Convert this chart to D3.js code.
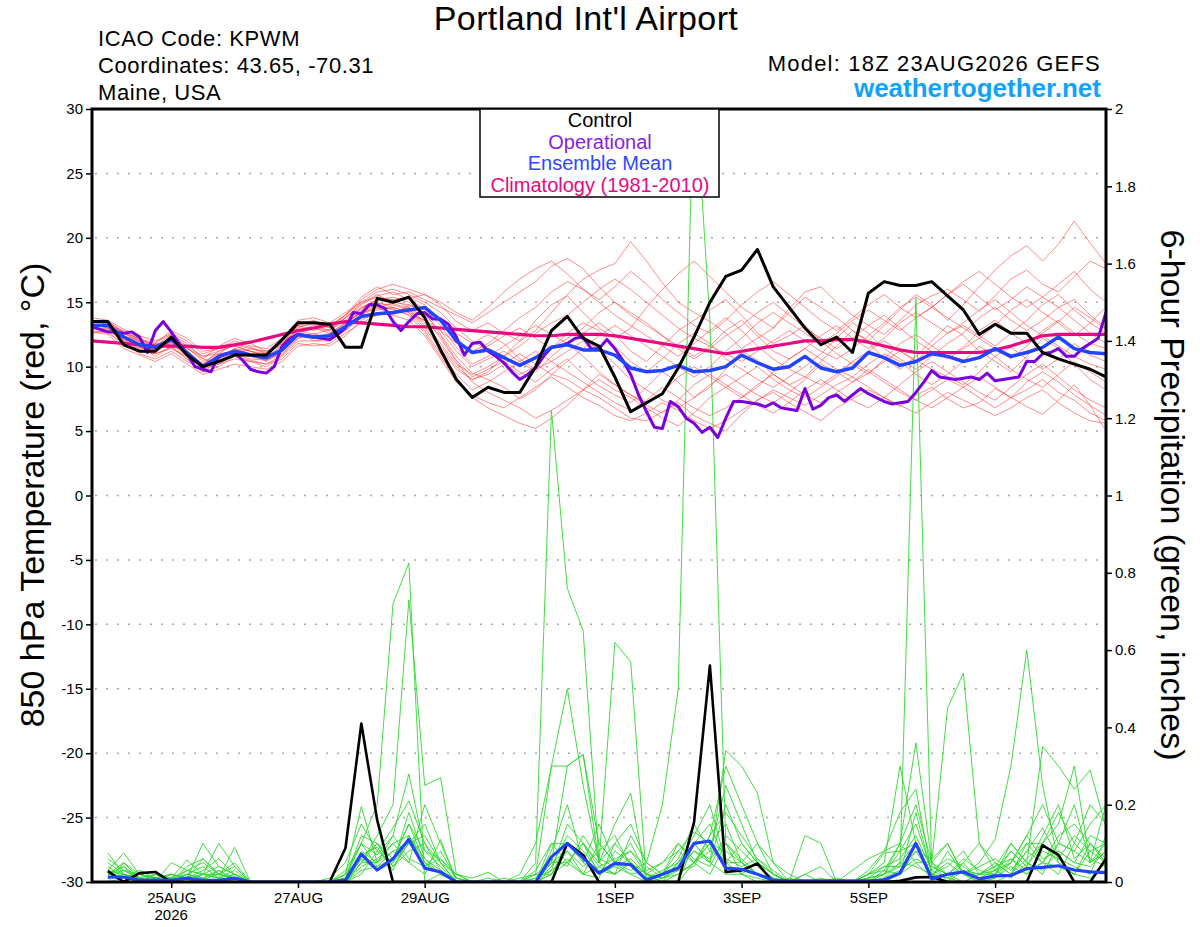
<!DOCTYPE html>
<html>
<head>
<meta charset="utf-8">
<script src="https://cdn.jsdelivr.net/npm/d3@7"></script>
<style>
  body { margin: 0; background: #fff; }
  text { font-family: "Liberation Sans", Arial, sans-serif; }
</style>
</head>
<body>
<script>
// GEFS meteogram for KPWM, 18Z 23AUG2026 run, 6-hourly steps (operational is 3-hourly)
var startTime = Date.UTC(2026, 7, 23, 18);

var tickDays = [Date.UTC(2026,7,25), Date.UTC(2026,7,27), Date.UTC(2026,7,29), Date.UTC(2026,8,1),
                Date.UTC(2026,8,3), Date.UTC(2026,8,5), Date.UTC(2026,8,7)];
var tickLabels = ["25AUG", "27AUG", "29AUG", "1SEP", "3SEP", "5SEP", "7SEP"];
var tempTicks = [-30, -25, -20, -15, -10, -5, 0, 5, 10, 15, 20, 25, 30];
var rainTicks = [0, 0.2, 0.4, 0.6, 0.8, 1, 1.2, 1.4, 1.6, 1.8, 2];

var legendNames = ["Control", "Operational", "Ensemble Mean", "Climatology (1981-2010)"];
var legendColors = ["#000000", "#8a1ee0", "#2e48ff", "#e8087f"];

// 850 hPa temperature, deg C, 0h..384h every 6h
var ctrlTemp = [13.5,13.5,11.7,11.2,11.2,12.3,10.9,10.0,10.4,10.9,
                10.9,10.9,12.1,13.4,13.4,13.3,11.5,11.5,15.3,15.0,
                15.4,13.8,11.3,9.0,7.6,8.4,8.0,8.0,10.0,12.8,
                13.9,12.2,11.6,9.2,6.5,7.2,7.9,9.9,12.3,15.0,
                17.0,17.5,19.1,16.2,14.6,13.0,11.7,12.3,11.1,15.7,
                16.6,16.3,16.3,16.6,15.5,14.4,12.5,13.3,12.6,12.6,
                11.1,10.6,10.2,9.8,9.2];

var meanTemp = [13.2,13.2,12.3,11.7,11.5,12.1,11.1,10.0,10.8,11.2,
                10.9,10.7,11.3,12.5,12.3,12.4,13.1,13.9,14.1,14.2,
                14.4,14.6,13.6,12.0,11.1,11.3,10.7,10.1,10.7,11.5,
                11.7,11.3,11.3,10.9,9.9,9.6,9.7,10.1,9.6,9.7,
                10.0,10.9,10.3,9.8,10.0,10.8,9.9,9.6,9.9,11.1,
                10.7,10.1,10.4,11.0,10.8,10.4,10.7,11.4,10.8,11.1,
                11.5,12.3,11.4,11.1,11.0];

var climTemp = [12.0,11.9,11.8,11.7,11.6,11.6,11.6,11.5,11.5,11.7,
                11.9,12.2,12.5,12.8,13.0,13.3,13.5,13.4,13.3,13.2,
                13.1,13.1,13.0,12.9,12.8,12.7,12.6,12.5,12.4,12.4,
                12.5,12.5,12.5,12.4,12.2,12.0,11.8,11.6,11.4,11.2,
                11.0,11.2,11.4,11.6,11.8,12.0,12.0,12.1,12.1,11.9,
                11.6,11.3,11.1,11.1,11.1,11.1,11.1,11.3,11.6,12.0,
                12.4,12.5,12.5,12.5,12.5];

// operational run, every 3h
var operTemp = [13.1,12.9,12.7,12.7,12.6,12.7,12.3,11.1,12.8,13.5,
                12.7,11.8,11.0,10.0,9.8,9.6,10.8,11.0,11.1,10.5,
                9.8,9.6,9.5,10.0,11.6,12.2,12.5,12.4,12.3,12.2,
                12.1,12.5,13.0,14.2,14.1,14.8,14.8,14.5,13.5,12.8,
                13.5,14.1,14.2,13.7,13.7,13.3,12.3,10.9,11.8,11.9,
                11.2,10.8,10.3,9.6,9.0,9.4,9.9,10.8,11.5,11.6,
                11.8,12.2,12.3,11.4,11.4,12.1,11.4,10.5,9.4,7.8,
                6.5,5.3,5.2,7.3,6.9,6.0,5.6,4.9,5.3,4.5,
                6.0,7.3,7.3,7.2,7.1,6.9,7.2,6.8,6.7,6.6,
                8.3,6.7,7.0,7.6,7.8,7.3,7.8,8.3,7.9,7.6,
                7.3,7.1,7.2,7.3,8.0,8.8,9.7,9.2,9.1,9.0,
                9.1,9.2,9.0,9.5,8.9,9.0,9.1,9.2,10.4,10.4,
                11.0,11.1,11.4,10.8,10.8,11.4,11.8,12.2,14.2];

var memberTemps = [
  [13.0,13.4,12.6,12.0,11.2, 12.4,11.5,10.4,11.0,11.8, 11.5,11.0,11.8,12.9,13.0, 12.8,13.6,14.5,15.2,15.0,
   15.3,15.6,14.8,13.5,12.8, 13.4,12.6,12.0,12.8,14.2, 15.6,16.8,17.5,18.0,19.7, 18.2,16.5,15.0,14.2,13.5,
   12.6,11.4,12.2,13.0,14.5, 15.8,16.2,15.0,14.0,13.2, 12.5,13.6,14.8,15.5,16.0, 15.2,14.3,15.5,16.8,17.5,
   16.4,15.8,17.0,18.2,17.6],
  [13.4,13.0,12.0,11.4,11.8, 11.6,10.6,9.6,10.4,10.8, 10.5,10.2,10.9,12.2,12.6, 12.0,13.0,14.0,14.6,14.0,
   14.8,14.2,12.5,10.8,9.5, 9.0,8.4,7.5,8.2,9.4, 9.0,8.2,7.6,6.8,6.0, 5.8,6.5,7.2,6.2,5.6,
   5.0,6.3,7.4,8.0,7.2, 6.5,5.8,6.8,7.5,8.2, 7.6,6.9,7.8,8.4,7.5, 6.8,7.2,8.3,7.6,6.9,
   6.3,7.4,8.6,7.0,5.0],
  [13.6,13.2,12.8,12.1,11.6, 12.5,11.8,10.6,10.2,10.9, 11.4,11.2,11.6,13.0,13.5, 13.0,13.8,14.8,15.5,15.8,
   15.2,14.5,13.2,11.5,10.2, 10.8,11.6,12.4,13.2,12.5, 11.8,12.6,13.4,12.5,11.2, 10.4,11.6,12.8,13.6,14.4,
   15.2,14.0,12.6,11.8,12.4, 13.2,12.0,11.0,10.2,9.4, 10.6,11.8,12.5,11.6,10.8, 11.5,12.8,13.6,12.6,11.8,
   12.6,13.5,14.6,13.8,12.9],
  [12.8,12.6,11.8,11.0,10.6, 11.2,10.4,9.8,10.6,11.4, 11.0,10.4,11.2,12.6,12.0, 12.2,13.2,14.2,14.8,14.4,
   14.0,13.6,12.4,10.5,9.2, 9.8,10.4,9.6,8.8,9.8, 10.6,9.4,8.5,7.8,7.2, 8.4,9.6,8.8,7.6,8.4,
   9.8,11.2,10.5,9.4,8.6, 9.2,10.4,11.6,12.8,11.9, 10.6,9.8,10.8,12.0,13.2, 12.4,11.2,10.4,9.6,10.8,
   12.2,11.4,10.2,9.0,8.2],
  [13.2,13.4,12.4,11.8,11.4, 12.0,11.0,10.2,11.2,11.6, 11.2,10.8,11.6,12.8,12.5, 12.9,13.8,14.9,15.6,14.9,
   14.5,13.2,11.6,10.0,9.0, 9.6,10.8,12.0,13.6,14.8, 15.5,14.2,13.0,12.2,13.0, 14.6,16.0,17.2,18.2,17.0,
   15.8,14.6,13.8,13.0,14.2, 15.4,14.6,13.8,12.8,12.0, 13.2,14.4,15.6,14.8,13.6, 14.8,16.2,17.5,18.6,19.4,
   18.2,19.5,21.3,19.6,18.0],
  [13.0,12.8,12.2,11.6,10.8, 11.6,11.2,10.2,10.8,11.0, 10.8,10.6,11.4,12.4,12.2, 12.6,13.4,14.2,14.5,15.0,
   14.8,14.4,13.8,12.6,11.8, 12.5,11.8,10.6,9.8,10.4, 11.2,12.0,11.4,10.2,9.0, 8.2,7.4,6.8,7.6,8.6,
   9.4,8.6,7.8,7.2,8.0, 9.0,10.2,9.6,8.8,9.5, 10.4,11.2,10.5,9.8,9.2, 8.6,9.6,10.8,11.5,10.6,
   9.8,10.6,11.8,10.9,10.4],
  [13.8,13.6,12.9,12.4,12.0, 12.6,12.0,11.0,11.4,12.0, 11.6,11.4,12.2,13.6,13.8, 13.4,14.2,15.0,15.8,16.0,
   15.6,15.0,14.2,13.0,12.0, 11.2,10.2,9.4,10.0,11.4, 12.6,13.4,12.8,11.6,10.4, 9.6,10.6,11.8,12.6,11.8,
   10.6,9.8,9.0,8.4,9.2, 10.0,11.0,12.2,13.4,12.6, 11.4,10.6,9.8,10.8,11.8, 12.6,13.8,14.6,13.6,12.8,
   13.6,14.6,15.2,14.0,13.0],
  [12.6,12.8,11.6,11.2,11.0, 11.4,10.8,9.8,10.2,10.6, 10.4,10.2,10.6,11.8,11.6, 11.8,12.6,13.4,14.0,14.2,
   14.6,13.8,12.2,10.4,8.8, 8.0,7.4,6.8,6.0,6.6, 7.4,8.2,9.0,8.2,7.6, 6.8,6.0,5.4,6.4,7.6,
   8.4,9.2,10.0,9.0,8.2, 7.6,8.4,9.2,10.4,9.6, 8.8,8.0,7.4,8.2,9.0, 8.4,7.6,6.8,7.6,8.8,
   9.6,8.8,7.8,7.0,6.2],
  [13.4,13.6,12.6,12.2,11.6, 12.2,11.4,10.6,11.6,12.2, 11.8,11.2,12.0,13.2,12.8, 13.2,14.0,15.4,16.2,15.6,
   15.8,15.2,14.6,14.0,13.4, 14.2,15.0,15.8,16.6,17.8, 18.4,17.6,16.2,15.0,14.0, 13.2,12.4,11.6,10.8,11.6,
   12.8,13.6,12.4,11.2,10.6, 11.4,12.4,13.2,12.2,11.4, 12.2,13.4,14.2,13.4,12.6, 13.2,12.4,11.6,12.6,13.6,
   14.8,15.6,14.4,13.4,12.6],
  [12.9,13.0,12.0,11.5,11.3, 11.8,10.8,9.9,10.4,11.0, 10.6,10.5,11.0,12.2,12.4, 12.4,13.2,14.4,15.2,15.4,
   15.0,14.0,12.8,11.2,10.0, 10.6,11.2,10.4,9.6,10.8, 11.8,10.8,9.6,8.6,7.8, 7.2,8.0,9.2,10.0,9.2,
   8.4,7.6,8.4,9.6,10.6, 11.4,10.6,9.8,9.2,10.2, 11.0,10.4,9.4,8.6,9.4, 10.4,11.6,10.8,9.8,9.0,
   8.4,9.4,10.4,9.6,8.8],
  [13.2,13.2,12.6,11.9,11.7, 12.2,11.2,10.0,10.6,11.4, 11.2,10.8,11.4,12.6,13.0, 12.6,13.4,14.6,15.2,15.2,
   15.4,14.8,13.6,12.0,11.0, 11.6,12.4,13.0,12.2,11.4, 12.2,13.0,14.2,15.0,14.2, 13.4,12.4,11.4,10.6,11.4,
   12.4,13.2,14.2,15.0,14.0, 13.0,12.2,11.4,12.2,13.2, 14.0,13.0,12.0,11.2,10.6, 11.4,12.2,11.4,10.6,11.6,
   12.8,13.6,12.6,11.8,11.4],
  [13.0,12.9,11.9,11.3,11.0, 11.5,10.6,9.6,10.0,10.8, 10.4,10.0,10.8,12.0,12.0, 12.0,12.8,13.8,14.4,14.6,
   14.2,12.8,11.0,9.4,8.2, 8.8,9.6,10.4,11.2,10.4, 9.6,8.8,8.0,7.2,6.6, 7.4,8.4,7.6,6.8,6.2,
   6.8,7.6,8.6,9.4,8.6, 7.8,7.2,8.0,8.8,9.8, 9.0,8.2,7.4,6.8,7.6, 8.4,9.2,8.4,7.6,8.2,
   9.0,8.0,7.4,6.4,5.8],
  [13.6,13.4,12.4,12.0,11.8, 12.8,12.2,11.2,11.4,11.6, 11.2,11.0,11.8,13.2,13.6, 13.0,14.0,15.0,15.4,15.2,
   14.6,13.4,11.8,10.2,9.4, 10.0,10.8,11.6,12.6,13.4, 14.0,15.0,16.0,16.8,16.0, 15.0,14.0,13.0,12.2,11.6,
   11.0,10.4,11.2,12.0,12.8, 12.0,11.2,10.6,11.4,12.4, 13.4,14.6,15.4,14.6,13.8, 13.0,12.2,13.2,14.4,15.2,
   14.2,13.4,12.4,13.4,14.6],
  [12.7,12.5,11.4,10.9,10.4, 11.0,10.2,9.4,9.8,10.2, 10.0,9.8,10.4,11.6,11.8, 11.6,12.4,13.6,14.2,14.0,
   13.6,12.4,10.6,8.8,7.8, 7.2,6.8,7.6,8.4,9.2, 8.4,7.6,7.0,6.2,5.8, 6.4,7.2,6.6,5.8,5.2,
   5.8,6.6,7.4,8.2,7.6, 7.0,7.8,8.6,9.2,8.4, 7.6,7.0,6.4,7.2,8.0, 7.4,6.8,6.2,6.8,7.6,
   8.2,7.2,6.4,5.8,5.6],
  [13.1,13.3,12.2,11.6,11.4, 11.9,11.0,10.2,10.9,11.3, 11.0,10.7,11.2,12.4,12.2, 12.5,13.3,14.3,14.9,14.8,
   14.4,13.0,11.4,9.8,9.0, 9.4,10.2,11.0,10.2,9.4, 10.4,11.4,12.4,13.2,12.4, 11.6,10.8,10.0,9.2,10.0,
   11.2,12.2,13.4,14.2,13.4, 12.6,11.8,12.6,13.6,14.4, 13.6,12.8,13.8,14.6,15.6, 16.4,15.4,14.4,15.2,16.2,
   15.4,14.6,13.6,12.6,11.8],
  [13.5,13.1,12.1,11.5,11.1, 12.0,11.4,10.8,11.0,11.2, 10.9,10.6,11.4,12.8,13.2, 12.8,13.8,14.6,15.0,14.6,
   14.2,13.6,12.8,11.8,11.2, 11.8,12.8,13.8,14.6,15.8, 16.6,16.0,15.0,14.0,13.2, 12.4,11.6,10.8,11.8,12.8,
   13.8,12.8,11.6,10.6,9.8, 9.2,8.6,9.4,10.4,11.2, 12.0,11.2,10.4,11.6,12.6, 13.4,14.4,15.2,14.2,13.2,
   12.4,11.6,10.8,10.2,9.8],
  [13.3,13.0,12.2,11.6,11.3, 11.8,10.9,10.0,10.6,11.1, 10.8,10.5,11.2,12.4,12.3, 12.3,13.1,14.1,14.7,14.5,
   14.0,12.6,10.8,9.0,7.6, 6.8,6.2,5.6,5.2,6.0, 7.0,8.2,9.4,8.6,7.8, 7.0,6.4,7.4,8.6,9.4,
   8.6,7.8,7.0,6.4,7.2, 8.2,9.0,8.2,7.4,6.8, 7.6,8.6,9.6,10.4,9.6, 8.8,8.0,7.4,8.4,9.4,
   10.2,9.2,8.2,7.4,6.8],
  [13.4,13.5,12.7,12.1,11.9, 12.5,11.6,10.8,11.2,11.7, 11.4,11.1,11.9,13.1,13.3, 13.1,14.0,15.2,16.0,16.4,
   16.0,15.6,15.0,14.2,13.6, 14.6,15.8,16.8,17.6,18.2, 17.2,16.0,15.2,16.2,17.4, 16.4,15.2,14.2,13.2,12.6,
   13.6,14.8,15.8,16.6,15.6, 14.6,13.6,12.8,13.8,14.8, 15.6,14.6,13.8,14.6,15.6, 16.6,17.4,16.4,15.4,14.6,
   15.4,16.4,17.4,16.0,15.0]
];

// 6-hour precipitation, inches, 6h..384h
var ctrlPrecip = [.028,0,.023,.026,0,0,0,0,  0,0,0,0,0,0,0,.088,
                  .41,.16,0,0,0,0,0,0,  0,0,0,0,0,.10,.07,0,
                  0,0,0,0,0,.155,.56,.026,  .03,.048,0,0,0,0,0,0,
                  0,0,.003,.012,.013,0,0,0,  0,0,0,.095,.07,0,0,.06];

var meanPrecip = [.013,.013,.005,.005,.004,.01,.004,.004,  .01,0,0,0,0,0,0,.005,
                  .072,.031,.06,.11,.036,.026,0,0,  0,0,0,0,.065,.10,.062,.023,
                  .048,.045,.005,.02,.036,.10,.106,.036,  .033,.02,.005,.003,.003,.003,.003,.003,
                  .003,.005,.023,.10,.008,.02,.026,.008,  .016,.017,.035,.038,.042,.031,.026,.024];

var memberPrecips = [
  [.02,.04,0,.01,0,.03,.05,.02, .01,0,0,0,0,0,0,.01, .1,.2,.72,.825,0,.02,0,0, 0,0,0,0,.05,.3,.33,.1,
   .05,.02,0,0,0,.1,.05,.34, .3,.23,.05,0,0,0,0,0, 0,.02,.1,.36,.05,0,0,.02, .04,.1,.05,.35,.3,.24,.29,.14],
  [.06,.03,.01,0,.02,.01,.1,.04, .02,0,0,0,0,0,0,0, .05,.12,.2,.73,.25,.27,.02,0, 0,0,0,.03,.1,.1,.05,.02,
   .05,.1,.02,.05,.08,.13,.1,.05, .1,.05,.02,0,0,0,0,.03, .06,.08,.18,.24,.02,0,.05,.1, .03,.05,.12,.2,.1,.08,.05,.1],
  [.03,.075,.02,.01,0,0,.02,.1, .04,0,0,0,0,0,0,.02, .195,.05,.1,.05,.02,.11,0,0, 0,0,0,.05,1.22,.76,.65,.05,
   .02,.05,0,0,.02,.05,.1,.08, .05,.02,0,0,0,0,0,0, 0,.01,.05,.1,0,0,0,0, .02,.08,.04,.12,.2,.06,.1,.05],
  [.075,.02,.01,0,.01,.057,.02,.01, .09,0,0,0,0,0,.01,.05, .15,.08,.14,.21,.1,.05,0,0, 0,.01,0,.02,.3,.3,.33,.05,
   .62,.57,0,.02,.1,.05,.02,.1, .05,.02,0,0,.02,0,0,0, .02,.05,.3,.1,.05,.1,.02,0, .01,.05,.1,.05,.02,.1,.2,.15],
  [.01,.01,0,.02,0,.02,.01,0, .02,0,0,0,0,0,0,.01, .08,.05,.12,.28,.08,.04,0,0, 0,0,0,0,.1,.05,.02,.1,
   .05,.03,.05,.2,.5,2.1,1.45,.1, .02,.05,0,0,0,0,0,0, 0,.03,.1,.2,.05,.02,0,0, 0,.02,.08,.05,.1,.2,.05,.08],
  [.02,.04,.01,0,.05,.03,.02,.01, 0,0,0,0,0,0,0,0, .05,.1,.06,.15,.05,.02,0,0, 0,0,0,0,.05,.08,.02,.01,
   .1,.05,.02,0,.05,.12,.2,.05, .02,0,0,0,0,0,0,0, .02,.04,.04,1.51,.04,.02,.05,0, .02,.1,.05,.03,.08,.05,.12,.1],
  [0,.05,.01,.02,0,.01,.03,.06, .02,0,0,0,0,0,0,.01, .12,.1,.04,.1,.15,.05,0,0, .01,0,0,0,.02,.05,.1,.04,
   .02,.05,.01,.03,.05,.1,.05,.2, .1,.05,.02,0,0,0,0,0, 0,0,.02,.05,.05,.45,.54,.1, .05,.02,.06,.1,.05,.02,.1,.05],
  [.02,.01,.02,0,0,.04,.06,.02, .05,0,0,0,0,0,0,0, .06,.03,.05,.1,.04,.08,.01,0, 0,0,0,.01,.03,.15,.1,.05,
   .15,.23,0,.01,.02,.05,.1,.15, .05,.1,.02,0,0,0,0,0, .01,.02,.05,.04,.02,.05,.02,.05, .11,.3,.6,.25,.05,.02,.01,.05],
  [.01,.02,0,.01,.02,.01,0,.03, .01,0,0,0,0,0,0,0, .02,.08,.05,.18,.06,.03,0,0, 0,0,0,0,.08,.2,.05,.15,
   .05,.08,.02,0,0,.05,.08,.25, .15,.05,.02,0,.12,.1,0,0, .02,.075,.08,.1,.02,0,.03,.02, .05,.02,.1,.1,.15,.3,.05,.2],
  [.03,.02,.01,0,.01,.02,.04,.01, .03,0,0,0,0,0,0,.02, .1,.04,.08,.05,.2,.1,.01,0, 0,0,.01,.02,.05,.05,.1,.02,
   .08,.05,.02,.01,.05,.1,.15,.05, .05,.02,0,.01,0,0,.01,0, .03,.08,.1,.05,.01,.08,.02,0, .01,.04,.02,.08,.06,.12,.08,.05],
  [.01,.03,.02,.01,0,0,.02,.02, .01,0,0,0,0,0,0,0, .04,.06,.1,.12,.05,.02,0,0, 0,0,.02,.1,.3,.5,.25,.05,
   .1,.15,.05,.02,.03,.08,.05,.02, .02,.01,0,0,0,0,0,0, .01,.02,.04,.08,.02,.01,0,.02, .03,.01,.05,.02,.1,.08,.15,.2],
  [.04,.01,.02,.01,.01,.03,.02,.04, .02,0,0,0,0,0,0,0, .05,.05,.08,.1,.12,.05,.02,.01, .025,0,0,0,.04,.12,.08,.03,
   .02,.12,.05,.02,.08,.05,.12,.3, .2,.1,.05,.02,0,0,0,0, 0,.01,.02,.18,.02,.04,.08,.02, .02,.06,.02,.05,.04,.02,.08,.1],
  [.02,.03,.01,0,0,.02,.01,.02, .04,0,0,0,0,0,0,.02, .06,.1,.04,.08,.1,.03,0,0, 0,0,0,.01,.06,.04,.12,.06,
   .04,.02,.03,.05,.1,.06,.04,.12, .08,.04,.01,0,0,0,0,0, .01,.04,.06,.12,.03,.06,.04,.01, .03,.08,.04,.1,.18,.1,.06,.04],
  [.05,.02,0,.02,.01,0,.01,.03, 0,0,0,0,0,0,0,.03, .1,.07,.12,.06,.04,.06,.01,0, 0,0,0,.02,.02,.08,.04,.08,
   .12,.04,.01,.02,.06,.15,.08,.06, .04,.06,.02,0,.02,.04,0,0, .02,.03,.02,.08,.06,.1,.02,.04, .06,.03,.08,.14,.06,.04,.02,.12],
  [0,.01,.03,.01,0,.01,.02,.01, .02,0,0,0,0,0,0,0, .03,.04,.06,.15,.08,.06,.02,0, 0,0,0,0,.03,.06,.02,.04,
   .06,.08,.04,.01,.04,.08,.06,.1, .06,.02,.01,0,0,0,0,0, 0,.01,.03,.06,.04,.02,.06,.03, .02,.05,.12,.06,.08,.05,.04,.08],
  [.02,.05,.02,.01,.02,.01,.06,.02, .01,0,0,0,0,0,0,.01, .07,.09,.03,.12,.06,.02,0,0, 0,0,0,0,.02,.1,.06,.02,
   .04,.06,.02,.01,.03,.04,.12,.18, .12,.06,.03,0,0,.01,0,0, .01,.02,.08,.15,.03,.01,.03,.02, .04,.06,.03,.05,.12,.15,.1,.06]
];

window.onload = function() {
  main();
};

function hoursAfter(h){
  return new Date(startTime + h * 3600000);
}

function main(){
  var plot = {left: 92, right: 1106, top: 109, bottom: 882};

  var svg = d3.select("body")
              .append("svg")
              .attr("width", 1200)
              .attr("height", 927);

  var xScale = d3.scaleUtc()
                 .domain([hoursAfter(0), hoursAfter(384)])
                 .range([plot.left, plot.right]);
  var yTemp = d3.scaleLinear()
                .domain([-30, 30])
                .range([plot.bottom, plot.top]);
  var yRain = d3.scaleLinear()
                .domain([0, 2])
                .range([plot.bottom, plot.top]);

  svg.append("clipPath")
     .attr("id", "plotClip")
     .append("rect")
     .attr("x", plot.left)
     .attr("y", plot.top)
     .attr("width", plot.right - plot.left)
     .attr("height", plot.bottom - plot.top);

  // dotted grid on the temperature ticks
  svg.selectAll(".grid")
     .data(tempTicks.filter(function(d){ return d > -30 && d < 30; }))
     .enter()
     .append("line")
     .attr("class", "grid")
     .attr("x1", plot.left + 3)
     .attr("x2", plot.right - 3)
     .attr("y1", function(d){ return yTemp(d); })
     .attr("y2", function(d){ return yTemp(d); })
     .attr("stroke", "#a8a8a8")
     .attr("stroke-width", 1.5)
     .attr("stroke-dasharray", "2,9");

  var tempLine = d3.line()
                   .x(function(d, i){ return xScale(hoursAfter(6 * i)); })
                   .y(function(d){ return yTemp(d); });
  var operLine = d3.line()
                   .x(function(d, i){ return xScale(hoursAfter(3 * i)); })
                   .y(function(d){ return yTemp(d); });
  var rainLine = d3.line()
                   .x(function(d, i){ return xScale(hoursAfter(6 * (i + 1))); })
                   .y(function(d){ return yRain(d); });

  var lines = svg.append("g").attr("clip-path", "url(#plotClip)");

  lines.selectAll(".member-temp")
       .data(memberTemps)
       .enter()
       .append("path")
       .attr("class", "member-temp")
       .attr("d", tempLine)
       .attr("fill", "none")
       .attr("stroke", "#ff3030")
       .attr("stroke-opacity", 0.62)
       .attr("stroke-width", 0.9);

  lines.selectAll(".member-rain")
       .data(memberPrecips)
       .enter()
       .append("path")
       .attr("class", "member-rain")
       .attr("d", rainLine)
       .attr("fill", "none")
       .attr("stroke", "#2ed82e")
       .attr("stroke-width", 0.9);

  addLine(lines, rainLine(ctrlPrecip), "#000000", 2.6);
  addLine(lines, rainLine(meanPrecip), "#2244ff", 3.2);
  addLine(lines, tempLine(climTemp), legendColors[3], 3.2);
  addLine(lines, operLine(operTemp), "#7a00dd", 3);
  addLine(lines, tempLine(meanTemp), "#2244ff", 3.5);
  addLine(lines, tempLine(ctrlTemp), "#000000", 3);

  makeAxes(svg, plot, xScale, yTemp, yRain);
  makeTitles(svg);
  makeLegend(svg);
}

function addLine(group, pathData, color, lineWidth){
  group.append("path")
       .attr("d", pathData)
       .attr("fill", "none")
       .attr("stroke", color)
       .attr("stroke-width", lineWidth)
       .attr("stroke-linejoin", "round");
}

function makeAxes(svg, plot, xScale, yTemp, yRain){
  var leftAxis = d3.axisLeft(yTemp)
                   .tickValues(tempTicks)
                   .tickSize(6)
                   .tickPadding(3)
                   .tickFormat(function(d){ return String(d); });
  var rightAxis = d3.axisRight(yRain)
                    .tickValues(rainTicks)
                    .tickSize(6)
                    .tickPadding(3)
                    .tickFormat(function(d){ return String(d); });
  var bottomAxis = d3.axisBottom(xScale)
                     .tickValues(tickDays.map(function(d){ return new Date(d); }))
                     .tickSize(6)
                     .tickPadding(4)
                     .tickFormat(function(d, i){ return tickLabels[i]; });

  var axes = [
    svg.append("g").attr("transform", "translate(" + plot.left + ",0)").call(leftAxis),
    svg.append("g").attr("transform", "translate(" + plot.right + ",0)").call(rightAxis),
    svg.append("g").attr("transform", "translate(0," + plot.bottom + ")").call(bottomAxis)
  ];
  axes.forEach(function(a){
    a.attr("font-family", "Liberation Sans, Arial, sans-serif")
     .attr("font-size", 15);
    a.select(".domain").remove();
    a.selectAll(".tick line").attr("stroke-width", 1.5);
    a.selectAll(".tick text").attr("fill", "#000");
  });

  svg.append("text")
     .attr("x", xScale(new Date(tickDays[0])))
     .attr("y", 920)
     .attr("text-anchor", "middle")
     .attr("font-size", 15)
     .text("2026");

  svg.append("rect")
     .attr("x", plot.left)
     .attr("y", plot.top)
     .attr("width", plot.right - plot.left)
     .attr("height", plot.bottom - plot.top)
     .attr("fill", "none")
     .attr("stroke", "#000")
     .attr("stroke-width", 3);

  svg.append("text")
     .attr("transform", "translate(44,495) rotate(-90)")
     .attr("text-anchor", "middle")
     .attr("font-size", 34)
     .text("850 hPa Temperature (red, \u00B0C)");

  svg.append("text")
     .attr("transform", "translate(1161,495) rotate(90)")
     .attr("text-anchor", "middle")
     .attr("font-size", 34)
     .text("6-hour Precipitation (green, inches)");
}

function makeTitles(svg){
  svg.append("text")
     .attr("x", 586)
     .attr("y", 30)
     .attr("text-anchor", "middle")
     .attr("font-size", 34)
     .attr("letter-spacing", 0.4)
     .text("Portland Int'l Airport");

  var info = ["ICAO Code: KPWM", "Coordinates: 43.65, -70.31", "Maine, USA"];
  svg.selectAll(".info")
     .data(info)
     .enter()
     .append("text")
     .attr("class", "info")
     .attr("x", 98)
     .attr("y", function(d, i){ return 46 + 27 * i; })
     .attr("font-size", 22)
     .attr("letter-spacing", 0.6)
     .text(function(d){ return d; });

  svg.append("text")
     .attr("x", 1101)
     .attr("y", 71)
     .attr("text-anchor", "end")
     .attr("font-size", 22)
     .attr("letter-spacing", 1.2)
     .text("Model: 18Z 23AUG2026 GEFS");

  svg.append("text")
     .attr("x", 1101)
     .attr("y", 97)
     .attr("text-anchor", "end")
     .attr("font-size", 26)
     .attr("font-weight", "bold")
     .attr("fill", "#14a2f6")
     .text("weathertogether.net");
}

function makeLegend(svg){
  svg.append("rect")
     .attr("x", 480)
     .attr("y", 109)
     .attr("width", 239)
     .attr("height", 88)
     .attr("fill", "#fff")
     .attr("stroke", "#000")
     .attr("stroke-width", 1.5);

  svg.selectAll(".legendText")
     .data(legendNames)
     .enter()
     .append("text")
     .attr("class", "legendText")
     .attr("x", 600)
     .attr("y", function(d, i){ return 127 + 21.7 * i; })
     .attr("text-anchor", "middle")
     .attr("font-size", 20)
     .attr("fill", function(d, i){ return legendColors[i]; })
     .text(function(d){ return d; });
}
</script>
</body>
</html>
